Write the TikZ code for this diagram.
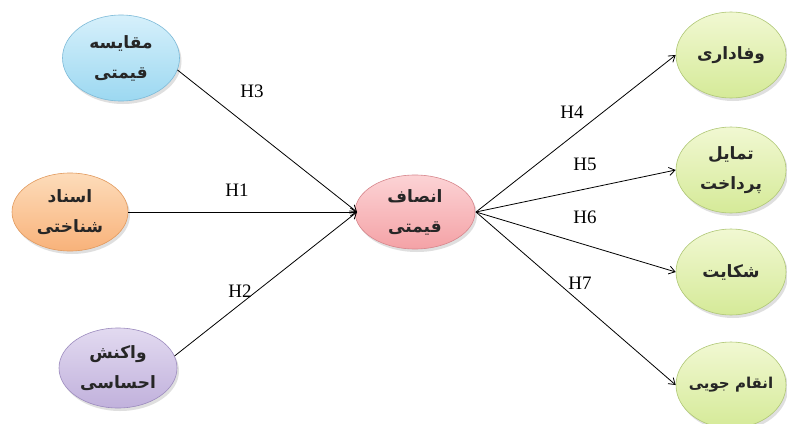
\documentclass[tikz,border=0pt]{standalone}
\usepackage{fontspec}
\setmainfont{Liberation Serif}
\newfontfamily\arabicfont[Script=Arabic]{DejaVu Sans}
\TeXXeTstate=1
\usetikzlibrary{shapes.geometric,shadows,arrows.meta}
\definecolor{blueT}{HTML}{D6F0FB}\definecolor{blueB}{HTML}{9CD8F1}\definecolor{blueD}{HTML}{7DBAD8}
\definecolor{orT}{HTML}{FDDCBA}\definecolor{orB}{HTML}{F8B27A}\definecolor{orD}{HTML}{E29A5E}
\definecolor{puT}{HTML}{E2DAF0}\definecolor{puB}{HTML}{C1B1DC}\definecolor{puD}{HTML}{9C8BBE}
\definecolor{piT}{HTML}{FCD3D5}\definecolor{piB}{HTML}{F4A2A6}\definecolor{piD}{HTML}{D7868C}
\definecolor{grT}{HTML}{F1F8D2}\definecolor{grB}{HTML}{D5EA98}\definecolor{grD}{HTML}{AFC775}
\tikzset{
  oval/.style={ellipse, minimum width=#1, align=center, inner sep=0pt,
    font=\arabicfont\bfseries\fontsize{17}{30}\selectfont, line width=0.6pt, text=black!85,
    drop shadow={opacity=0.25, shadow xshift=2pt, shadow yshift=-3pt}},
  blueov/.style={oval=117pt, minimum height=86pt, top color=blueT, bottom color=blueB, draw=blueD},
  orov/.style={oval=116pt, minimum height=78pt, top color=orT, bottom color=orB, draw=orD},
  puov/.style={oval=118pt, minimum height=80pt, top color=puT, bottom color=puB, draw=puD},
  piov/.style={oval=120pt, minimum height=74pt, top color=piT, bottom color=piB, draw=piD},
  grov/.style={oval=110pt, minimum height=86pt, top color=grT, bottom color=grB, draw=grD},
  link/.style={-{Straight Barb[length=6pt,width=8pt]}, line width=0.8pt, black},
  hlab/.style={font=\fontsize{19}{20}\selectfont}
}
\begin{document}
\begin{tikzpicture}[x=1pt,y=-1pt]
\useasboundingbox[fill=white] (0,0) rectangle (787,423);
\node[blueov] (mq) at (121,58) {\beginR مقایسه\endR\\\beginR قیمتی\endR};
\node[orov] (as) at (70,212) {\beginR اسناد\endR\\\beginR شناختی\endR};
\node[puov] (va) at (118,368) {\beginR واکنش\endR\\\beginR احساسی\endR};
\node[piov] (en) at (415,212) {\beginR انصاف\endR\\\beginR قیمتی\endR};
\node[grov] (vf) at (731,55) {\beginR وفاداری\endR};
\node[grov] (tp) at (731,170) {\beginR تمایل\endR\\\beginR پرداخت\endR};
\node[grov] (sh) at (731,272) {\beginR شکایت\endR};
\node[grov] (eq) at (731,385) {\makebox[0pt]{\fontsize{15}{30}\selectfont\beginR انقام جویی\endR}};
\coordinate (inL) at (357,212);
\coordinate (outR) at (476,212);
\draw[link] (mq.-12) -- (inL);
\draw[link] (as.east) -- (inL);
\draw[link] (va.12) -- (inL);
\draw[link] (outR) -- (vf.west);
\draw[link] (outR) -- (tp.west);
\draw[link] (outR) -- (sh.west);
\draw[link] (outR) -- (eq.west);
\node[hlab] (h3) at (252,91) {H3};
\node[hlab] (h1) at (237,190) {H1};
\node[hlab] (h2) at (240,291) {H2};
\node[hlab] (h4) at (572,112) {H4};
\node[hlab] (h5) at (585,164) {H5};
\node[hlab] (h6) at (585,217) {H6};
\node[hlab] (h7) at (580,283) {H7};
\end{tikzpicture}
\end{document}
